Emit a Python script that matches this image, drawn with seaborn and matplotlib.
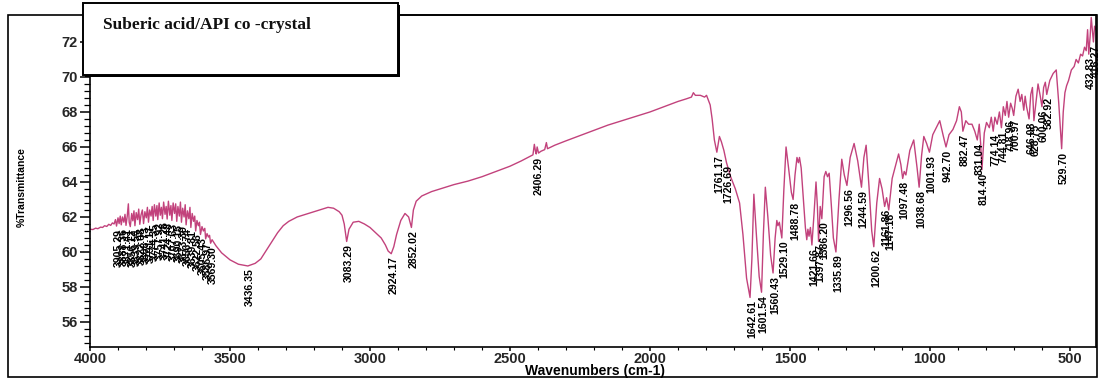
import numpy as np
import pandas as pd
import matplotlib
matplotlib.use("Agg")
import matplotlib.pyplot as plt
from matplotlib.patches import Rectangle
from matplotlib.ticker import MultipleLocator, AutoMinorLocator
import seaborn as sns

# ---- FTIR spectrum, wavenumber (cm-1) and %T, split by region ----
# O-H stretch region with noisy baseline
wn_oh = [4000, 3990, 3980, 3972, 3962, 3955, 3948, 3940, 3933, 3926, 3920, 3914,
         3909, 3905.29, 3900, 3896, 3892, 3888.36, 3884, 3879, 3875, 3871.41, 3867,
         3863, 3860, 3856.12, 3851, 3847, 3843, 3839.54, 3835, 3830, 3826, 3822.08,
         3818, 3813, 3808.73, 3804, 3799, 3795, 3791.17, 3787, 3782, 3778, 3774.35,
         3770, 3765, 3761, 3757.92, 3753, 3749, 3745, 3741.26, 3737, 3732, 3728,
         3724.48, 3720, 3715, 3711, 3707.63, 3703, 3698, 3694, 3690.15, 3686, 3681,
         3677, 3673.39, 3669, 3664, 3660, 3656.74, 3652, 3647, 3643, 3639.81, 3635,
         3630, 3626, 3622.56, 3618, 3613, 3609, 3605.43, 3600, 3595, 3590, 3586.97,
         3582, 3577, 3573, 3569.30, 3564, 3558]
t_oh = [61.30, 61.28, 61.36, 61.33, 61.42, 61.40, 61.50, 61.46, 61.58, 61.52, 61.66, 61.60,
        61.85, 61.48, 61.95, 61.62, 62.05, 61.55, 62.00, 61.70, 62.15, 61.52, 62.05,
        62.75, 61.70, 61.45, 62.20, 61.78, 62.35, 61.50, 62.25, 61.85, 62.45, 61.58,
        62.10, 62.40, 61.62, 62.30, 61.95, 62.55, 61.70, 62.40, 62.05, 62.60, 61.80,
        62.70, 62.05, 62.65, 61.85, 62.80, 62.10, 62.55, 61.90, 62.85, 62.15, 62.60,
        61.88, 62.90, 62.10, 62.65, 61.80, 62.80, 62.20, 62.75, 61.75, 62.60, 62.05,
        62.85, 61.70, 62.50, 62.00, 62.70, 61.55, 62.35, 61.90, 62.55, 61.40, 62.20,
        61.75, 62.05, 61.20, 61.80, 61.50, 61.70, 61.00, 61.45, 61.20, 61.35, 60.75,
        61.05, 60.85, 60.95, 60.50, 60.70, 60.55]

# broad O-H band, C-H stretches and sloping baseline
wn_ch = [3550, 3530, 3500, 3470, 3436.35, 3410, 3390, 3370, 3350, 3330, 3310, 3290,
         3260, 3230, 3200, 3170, 3150, 3130, 3110, 3100, 3092, 3083.29, 3075, 3060,
         3040, 3020, 3000, 2980, 2960, 2945, 2935, 2924.17, 2915, 2905, 2890, 2875,
         2862, 2852.02, 2845, 2835, 2815, 2780, 2740, 2700, 2650, 2600, 2550, 2500,
         2460, 2430]
t_ch = [60.35, 59.95, 59.55, 59.30, 59.20, 59.35, 59.60, 60.10, 60.60, 61.10, 61.50, 61.75,
        62.00, 62.15, 62.30, 62.45, 62.55, 62.50, 62.30, 62.10, 61.60, 60.60, 61.30, 61.70,
        61.75, 61.60, 61.40, 61.10, 60.80, 60.40, 60.05, 59.90, 60.30, 61.00, 61.80, 62.20,
        62.00, 61.40, 62.40, 62.90, 63.20, 63.45, 63.65, 63.85, 64.05, 64.30, 64.60, 64.90,
        65.20, 65.45]

# carbonyl / double bond region
wn_co = [2418, 2413, 2409, 2406.29, 2403, 2398, 2390, 2376, 2370, 2366, 2340, 2300,
         2250, 2200, 2150, 2100, 2050, 2000, 1950, 1900, 1870, 1852, 1845, 1838, 1820,
         1805, 1798, 1792, 1785, 1778, 1770, 1761.17, 1752, 1745, 1736, 1726.69, 1712,
         1695, 1680, 1668, 1655, 1642.61, 1636, 1629, 1620, 1610, 1601.54, 1595, 1588,
         1579, 1569, 1560.43, 1553, 1547, 1543, 1538, 1529.10, 1522, 1514, 1505, 1495,
         1488.78]
t_co = [65.55, 66.15, 65.75, 65.60, 66.00, 65.65, 65.75, 65.85, 66.25, 65.90, 66.10, 66.35,
        66.65, 66.95, 67.25, 67.50, 67.75, 68.00, 68.30, 68.60, 68.75, 68.85, 69.10, 68.95, 68.95,
        68.85, 68.95, 68.70, 68.40, 67.60, 66.40, 65.70, 66.60, 66.30, 65.80, 65.10, 64.30,
        63.60, 62.80, 61.00, 58.50, 57.40, 59.60, 63.30, 61.00, 58.60, 57.70, 61.00, 63.70,
        62.00, 59.80, 58.80, 60.80, 61.80, 61.50, 61.70, 60.80, 63.50, 66.00, 64.80, 63.40,
        63.00]

# fingerprint region
wn_fp = [1482, 1475, 1470, 1466, 1460, 1452, 1445, 1440, 1436, 1432, 1427, 1421.66,
         1414, 1407, 1402, 1397.87, 1392, 1386.20, 1378, 1372, 1366, 1360, 1352, 1345,
         1335.89, 1325, 1315, 1306, 1296.56, 1285, 1271, 1258, 1244.59, 1236, 1228, 1218,
         1208, 1200.62, 1190, 1180, 1171, 1161.86, 1155, 1147.18, 1135, 1112, 1104,
         1097.48, 1092, 1086, 1072, 1058, 1046, 1038.68, 1030, 1022, 1012, 1001.93]
t_fp = [64.40, 65.40, 65.10, 65.40, 64.80, 63.00, 61.40, 60.70, 61.30, 60.90, 61.40, 60.40,
        62.20, 64.00, 62.60, 60.60, 62.60, 61.90, 64.30, 64.60, 64.30, 64.50, 62.60, 60.80,
        60.00, 63.00, 65.30, 64.40, 63.80, 65.40, 66.20, 65.20, 63.70, 65.40, 66.10, 63.80,
        61.20, 60.30, 62.80, 64.20, 63.60, 62.60, 63.10, 62.40, 64.20, 65.60, 65.00,
        64.20, 64.60, 64.40, 65.80, 66.40, 64.80, 63.70, 65.50, 66.60, 66.20, 65.70]

# low wavenumber region
wn_lw = [990, 965, 952, 942.70, 932, 918, 905, 895, 888, 882.47, 872, 862, 850, 840,
         831.04, 824, 819, 814.40, 806, 798, 788, 781, 774.14, 768, 760, 752, 744.81,
         738, 731, 725, 718.96, 712, 706, 700.97, 693, 685, 678, 672, 665, 660, 655,
         646.08, 640, 634, 628.75, 621, 614, 606, 600.06, 594, 588, 582.92, 572, 560,
         549, 540, 529.70, 524, 518, 512, 505, 495, 485, 478, 470, 462, 455, 448, 442,
         437, 432.83, 428, 424, 419, 416.27, 412, 407]
t_lw = [66.70, 67.50, 66.60, 66.00, 66.70, 67.00, 67.50, 68.30, 68.00, 66.90, 67.50, 67.30,
        67.30, 66.90, 66.40, 67.30, 66.20, 64.70, 66.80, 67.40, 67.10, 67.70, 66.90, 67.70,
        67.30, 68.00, 67.10, 68.30, 67.80, 68.60, 67.70, 68.50, 68.20, 67.80, 68.90, 69.30,
        68.60, 69.00, 68.10, 68.90, 68.30, 67.60, 69.00, 69.40, 67.50, 68.60, 69.60, 68.90,
        68.30, 69.40, 69.70, 69.00, 69.80, 70.20, 70.40, 68.50, 65.90, 68.00, 69.10, 69.50,
        69.80, 70.40, 70.60, 71.00, 70.80, 71.30, 71.20, 71.70, 71.50, 72.70, 71.30, 72.30,
        73.40, 72.50, 72.00, 72.90, 72.70]

# picked peak positions (cm-1)
oh_peaks = [3905.29, 3888.36, 3871.41, 3856.12, 3839.54, 3822.08, 3808.73, 3791.17,
            3774.35, 3757.92, 3741.26, 3724.48, 3707.63, 3690.15, 3673.39, 3656.74,
            3639.81, 3622.56, 3605.43, 3586.97, 3569.30]
band_peaks = [3436.35, 3083.29, 2924.17, 2852.02, 2406.29, 1761.17, 1726.69, 1642.61,
              1601.54, 1560.43, 1529.10, 1488.78, 1421.66, 1397.87, 1386.20, 1335.89,
              1296.56, 1244.59, 1200.62, 1161.86, 1147.18, 1097.48, 1038.68, 1001.93,
              942.70, 882.47, 831.04, 814.40, 774.14, 744.81, 718.96, 700.97, 646.08,
              628.75, 600.06, 582.92, 529.70, 432.83, 416.27]

title_text = "Suberic acid/API co -crystal"
x_label = "Wavenumbers (cm-1)"
y_label = "%Transmittance"

spectrum = pd.DataFrame({
    "wavenumber": np.concatenate([wn_oh, wn_ch, wn_co, wn_fp, wn_lw]),
    "transmittance": np.concatenate([t_oh, t_ch, t_co, t_fp, t_lw]),
})

sns.set_theme(style="white")
plt.rcParams["font.family"] = ["Liberation Sans", "DejaVu Sans"]

W, H = 1101, 381
fig = plt.figure(figsize=(W / 100, H / 100), dpi=100)
ax = fig.add_axes([90 / W, 34 / H, 1006 / W, 332 / H])

line_color = "#c2427c"
sns.lineplot(data=spectrum, x="wavenumber", y="transmittance", sort=False,
             estimator=None, color=line_color, lw=1.0, ax=ax)

ax.set_xlim(4000, 407)
ax.set_ylim(54.57, 73.54)
ax.xaxis.set_major_locator(MultipleLocator(500))
ax.xaxis.set_minor_locator(AutoMinorLocator(5))
ax.yaxis.set_major_locator(MultipleLocator(2))
ax.yaxis.set_minor_locator(AutoMinorLocator(5))
ax.tick_params(axis="y", which="major", direction="out", length=7, width=1.1,
               color="black", labelsize=10.5, pad=2, left=True)
ax.tick_params(axis="y", which="minor", direction="out", length=4, width=0.9,
               color="black", left=True)
ax.tick_params(axis="x", which="major", direction="out", length=3, width=1.1,
               color="black", labelsize=10.5, pad=0.5, bottom=True)
ax.tick_params(axis="x", which="minor", direction="out", length=2, width=0.8,
               color="black", bottom=True)
for lab in ax.get_xticklabels() + ax.get_yticklabels():
    lab.set_fontweight("bold")
ax.set_xlabel("")
ax.set_ylabel("")
for sp in ax.spines.values():
    sp.set_color("black")
    sp.set_linewidth(1.2)

# peak annotations, drawn at the spectrum value of each picked peak
wn_all = spectrum["wavenumber"].to_numpy()
t_all = spectrum["transmittance"].to_numpy()
for p in oh_peaks + band_peaks:
    idx = int(np.argmin(np.abs(wn_all - p)))
    ax.annotate(f"{p:.2f}", xy=(wn_all[idx], t_all[idx]), xytext=(1.5, -2),
                textcoords="offset points", rotation=90, ha="center", va="top",
                fontsize=7.6, fontweight="bold", color="black", clip_on=False)

# axis titles
fig.text(595 / W, 10 / H, x_label, ha="center", va="center", fontsize=10,
         fontweight="bold", color="black")
fig.text(22 / W, (H - 187) / H, y_label, ha="center", va="center", rotation=90,
         fontsize=7.5, fontweight="bold", color="black")

# outer frame of the printout
fig.add_artist(Rectangle((8 / W, 4 / H), 1089 / W, 362 / H, transform=fig.transFigure,
                         fill=False, edgecolor="black", lw=1.2))

# sample caption box with a slight shadow
fig.add_artist(Rectangle((85 / W, (H - 77) / H), 315 / W, 72 / H, transform=fig.transFigure,
                         facecolor="black", edgecolor="black", lw=0, zorder=5))
fig.add_artist(Rectangle((83 / W, (H - 75) / H), 315 / W, 72 / H, transform=fig.transFigure,
                         facecolor="white", edgecolor="black", lw=1.4, zorder=6))
fig.text(103 / W, (H - 29) / H, title_text, ha="left", va="baseline", fontsize=12.5,
         fontweight="bold", family=["Liberation Serif", "DejaVu Serif"], color="#111111",
         zorder=7)

fig.savefig("out.png", dpi=100)
